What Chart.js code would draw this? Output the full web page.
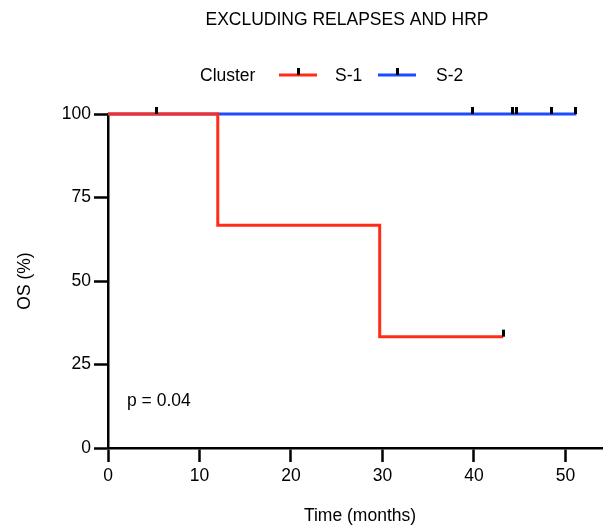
<!DOCTYPE html>
<html>
<head>
<meta charset="utf-8">
<script src="https://cdn.jsdelivr.net/npm/chart.js@4"></script>
<style>
  html, body { margin: 0; padding: 0; background: #fff; }
  #wrap { width: 603px; height: 528px; }
</style>
</head>
<body>
<div id="wrap"><canvas id="osChart" width="603" height="528"></canvas></div>
<script>
// Survival steps (months, OS %)
const s1Times = [0, 12, 29.7, 43.2];
const s1Surv = [100, 66.67, 33.33, 33.33];
const s2Times = [0, 51.2];
const s2Surv = [100, 100];

// Censored observations
const s1CensorTimes = [43.2];
const s1CensorSurv = [33.33];
const s2CensorTimes = [5.3, 39.8, 44.2, 44.7, 48.5, 51.1];
const s2CensorSurv = [100, 100, 100, 100, 100, 100];

const xTicks = [0, 10, 20, 30, 40, 50];
const yTicks = [0, 25, 50, 75, 100];

const chartTitle = 'EXCLUDING RELAPSES AND HRP';
const xTitle = 'Time (months)';
const legendTitle = 'Cluster';
const seriesNames = ['S-1', 'S-2'];
const pValueText = 'p = 0.04';

const RED = '#FF2C18';
const BLUE = '#1C4CFF';
const FONT = '"Liberation Sans", Arial, Helvetica, sans-serif';
const FS = 17.5;

const toPoints = (xs, ys) => xs.map((x, i) => ({ x: x, y: ys[i] }));

// small vertical tick sitting on top of the curve
function censorMark() {
    const c = document.createElement('canvas');
    c.width = 3;
    c.height = 16;
    const g = c.getContext('2d');
    g.fillStyle = '#000';
    g.fillRect(0, 1, 3, 7);
    return c;
}
const tick = censorMark();

const overlay = {
    id: 'overlay',
    afterDraw(chart) {
        const ctx = chart.ctx;
        ctx.save();
        ctx.fillStyle = '#000';
        ctx.font = `${FS}px ${FONT}`;
        ctx.textBaseline = 'alphabetic';

        ctx.textAlign = 'center';
        ctx.fillText(chartTitle, 347, 25);
        ctx.fillText(xTitle, 360, 521);

        // legend row
        ctx.textAlign = 'left';
        ctx.fillText(legendTitle, 200, 81);
        const items = [
            { x: 279, color: RED, label: seriesNames[0], tx: 335 },
            { x: 378, color: BLUE, label: seriesNames[1], tx: 436 }
        ];
        items.forEach(it => {
            ctx.strokeStyle = it.color;
            ctx.lineWidth = 3;
            ctx.beginPath();
            ctx.moveTo(it.x, 75);
            ctx.lineTo(it.x + 38, 75);
            ctx.stroke();
            ctx.fillRect(it.x + 18, 68, 3, 7);
            ctx.fillText(it.label, it.tx, 81);
        });

        ctx.fillText(pValueText, 127, 405.5);
        ctx.restore();
    }
};

new Chart(document.getElementById('osChart').getContext('2d'), {
    type: 'line',
    data: {
        datasets: [
            {
                label: seriesNames[1] + ' censored',
                data: toPoints(s2CensorTimes, s2CensorSurv),
                showLine: false,
                pointStyle: tick,
                pointRadius: 4,
                clip: false
            },
            {
                label: seriesNames[0] + ' censored',
                data: toPoints(s1CensorTimes, s1CensorSurv),
                showLine: false,
                pointStyle: tick,
                pointRadius: 4,
                clip: false
            },
            {
                label: seriesNames[0],
                data: toPoints(s1Times, s1Surv),
                borderColor: RED,
                borderWidth: 3,
                stepped: 'before',
                pointRadius: 0,
                clip: false
            },
            {
                label: seriesNames[1],
                data: toPoints(s2Times, s2Surv),
                borderColor: BLUE,
                borderWidth: 3,
                stepped: 'before',
                pointRadius: 0,
                clip: false
            }
        ]
    },
    options: {
        responsive: false,
        animation: false,
        layout: { autoPadding: false, padding: { top: 114, right: 1, left: 0, bottom: 0 } },
        plugins: {
            legend: { display: false },
            title: { display: false },
            tooltip: { enabled: false }
        },
        scales: {
            x: {
                type: 'linear',
                min: 0,
                max: 54,
                afterBuildTicks: s => { s.ticks = xTicks.map(v => ({ value: v })); },
                afterFit: s => { s.height = 80; s.paddingLeft = 0; s.paddingRight = 0; },
                border: { color: '#000', width: 2.5 },
                grid: { drawOnChartArea: false, tickLength: 14, tickWidth: 2.5, tickColor: '#000' },
                ticks: { color: '#000', padding: 4, font: { family: FONT, size: FS } }
            },
            y: {
                min: 0,
                max: 100,
                afterBuildTicks: s => { s.ticks = yTicks.map(v => ({ value: v })); },
                afterFit: s => { s.width = 108; s.paddingTop = 0; s.paddingBottom = 0; },
                border: { color: '#000', width: 2.5 },
                grid: { drawOnChartArea: false, tickLength: 14, tickWidth: 2.5, tickColor: '#000' },
                ticks: { color: '#000', padding: 3, font: { family: FONT, size: FS } },
                title: {
                    display: true,
                    text: 'OS (%)',
                    color: '#000',
                    font: { family: FONT, size: FS },
                    padding: { top: 15, bottom: 0 }
                }
            }
        }
    },
    plugins: [overlay]
});
</script>
</body>
</html>
